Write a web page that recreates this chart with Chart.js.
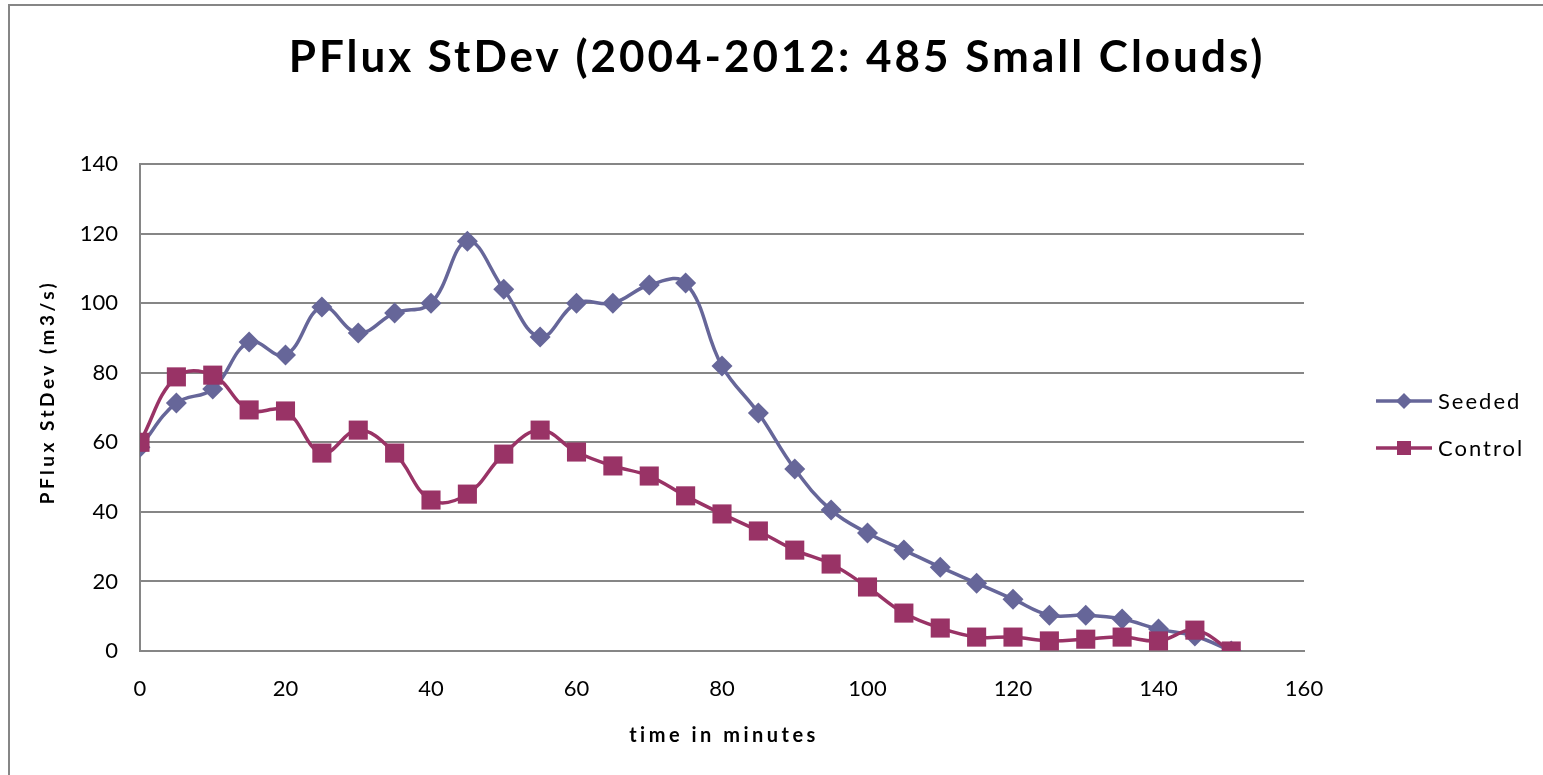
<!DOCTYPE html>
<html lang="en">
<head>
  <meta charset="UTF-8">
  <title>PFlux StDev</title>
  <script src="https://cdn.jsdelivr.net/npm/chart.js"></script>
  <style>
    body { margin: 0; background: #fff; }
    canvas { display: block; }
  </style>
</head>
<body>
  <canvas id="fluxChart" width="1543" height="775"></canvas>

  <script>
    const minutes = [0, 5, 10, 15, 20, 25, 30, 35, 40, 45, 50, 55, 60, 65, 70, 75,
                     80, 85, 90, 95, 100, 105, 110, 115, 120, 125, 130, 135, 140, 145, 150];
    const seeded = [58.6, 71.3, 75.3, 88.8, 85.1, 98.9, 91.4, 97.2, 100, 117.8, 104, 90.3, 100, 100, 105.2, 105.8,
                    81.9, 68.4, 52.3, 40.5, 33.9, 29, 24.1, 19.5, 14.9, 10.3, 10.3, 9.2, 6.3, 4.3, 0];
    const control = [60, 78.8, 79.3, 69.3, 69, 56.9, 63.5, 56.9, 43.4, 45.1, 56.6, 63.5, 57.2, 53.2, 50.3, 44.6,
                     39.4, 34.5, 29, 25, 18.4, 10.9, 6.6, 4, 4, 2.9, 3.4, 4, 2.9, 6, 0];
    const seriesNames = ['Seeded', 'Control'];
    const xTicks = [0, 20, 40, 60, 80, 100, 120, 140, 160];
    const yTicks = [0, 20, 40, 60, 80, 100, 120, 140];

    const chartTitle = 'PFlux StDev (2004-2012: 485 Small Clouds)';
    const xTitle = 'time in minutes';
    const yTitle = 'PFlux StDev (m3/s)';

    const FONT = 'Lato, "Open Sans", sans-serif';
    const GRID = '#868686';

    const toPoints = vals => vals.map((v, i) => ({ x: minutes[i], y: v }));

    function spacedText(ctx, text, x, y, font, spacing) {
      ctx.font = font;
      ctx.letterSpacing = spacing + 'px';
      ctx.fillText(text, x, y);
      ctx.letterSpacing = '0px';
    }

    // frame, titles and the line+marker legend, Excel style
    const decorations = {
      id: 'decorations',
      beforeDraw(chart) {
        const ctx = chart.ctx;
        ctx.save();
        ctx.fillStyle = '#fff';
        ctx.fillRect(0, 0, chart.width, chart.height);
        ctx.strokeStyle = GRID;
        ctx.lineWidth = 2;
        ctx.strokeRect(9, 5, chart.width + 20, chart.height + 20);
        ctx.restore();
      },
      afterDraw(chart) {
        const ctx = chart.ctx;
        ctx.save();
        ctx.fillStyle = '#000';
        ctx.textAlign = 'center';
        ctx.textBaseline = 'middle';
        spacedText(ctx, chartTitle, 777, 58, 'bold 44px ' + FONT, 3);
        spacedText(ctx, xTitle, 724, 736, 'bold 20px ' + FONT, 3.5);
        ctx.translate(48, 392);
        ctx.rotate(-Math.PI / 2);
        spacedText(ctx, yTitle, 0, 0, 'bold 19px ' + FONT, 3.5);
        ctx.restore();

        const rows = [401, 448];
        ctx.save();
        chart.data.datasets.forEach((ds, i) => {
          const y = rows[i];
          ctx.strokeStyle = ds.borderColor;
          ctx.lineWidth = 3.5;
          ctx.beginPath();
          ctx.moveTo(1376, y);
          ctx.lineTo(1432, y);
          ctx.stroke();
          ctx.fillStyle = ds.borderColor;
          ctx.beginPath();
          if (ds.pointStyle === 'rectRot') {
            ctx.moveTo(1404, y - 8); ctx.lineTo(1412, y); ctx.lineTo(1404, y + 8); ctx.lineTo(1396, y);
          } else {
            ctx.rect(1397, y - 7, 14, 14);
          }
          ctx.closePath();
          ctx.fill();
          ctx.fillStyle = '#000';
          ctx.textAlign = 'left';
          ctx.textBaseline = 'middle';
          spacedText(ctx, ds.label, 1438, y + 1, '22px ' + FONT, 2);
        });
        ctx.restore();
      }
    };

    new Chart(document.getElementById('fluxChart'), {
      type: 'line',
      data: {
        datasets: [
          {
            label: seriesNames[0],
            data: toPoints(seeded),
            borderColor: '#666699',
            backgroundColor: '#666699',
            borderWidth: 3.5,
            tension: 0.4,
            pointStyle: 'rectRot',
            pointRadius: 10.5,
            pointBorderWidth: 0,
            order: 2
          },
          {
            label: seriesNames[1],
            data: toPoints(control),
            borderColor: '#993366',
            backgroundColor: '#993366',
            borderWidth: 3.5,
            tension: 0.4,
            pointStyle: 'rect',
            pointRadius: 13.5,
            pointBorderWidth: 0,
            order: 1
          }
        ]
      },
      options: {
        responsive: false,
        animation: false,
        layout: { padding: { left: 0, right: 239, top: 164, bottom: 0 } },
        plugins: {
          legend: { display: false },
          tooltip: { enabled: false },
          title: { display: false }
        },
        scales: {
          x: {
            type: 'linear',
            min: 0,
            max: 160,
            afterFit: s => { s.height = 124; },
            afterBuildTicks: s => { s.ticks = xTicks.map(v => ({ value: v })); },
            grid: { display: false, drawTicks: false },
            border: { display: true, color: GRID, width: 2 },
            ticks: { color: '#000', padding: 25, font: { family: FONT, size: 22 } }
          },
          y: {
            min: 0,
            max: 140,
            afterFit: s => { s.width = 140; },
            afterBuildTicks: s => { s.ticks = yTicks.map(v => ({ value: v })); },
            grid: { color: GRID, lineWidth: 2, drawTicks: false },
            border: { display: true, color: GRID, width: 2 },
            ticks: { color: '#000', padding: 22, font: { family: FONT, size: 22 } }
          }
        }
      },
      plugins: [decorations]
    });
  </script>
</body>
</html>
